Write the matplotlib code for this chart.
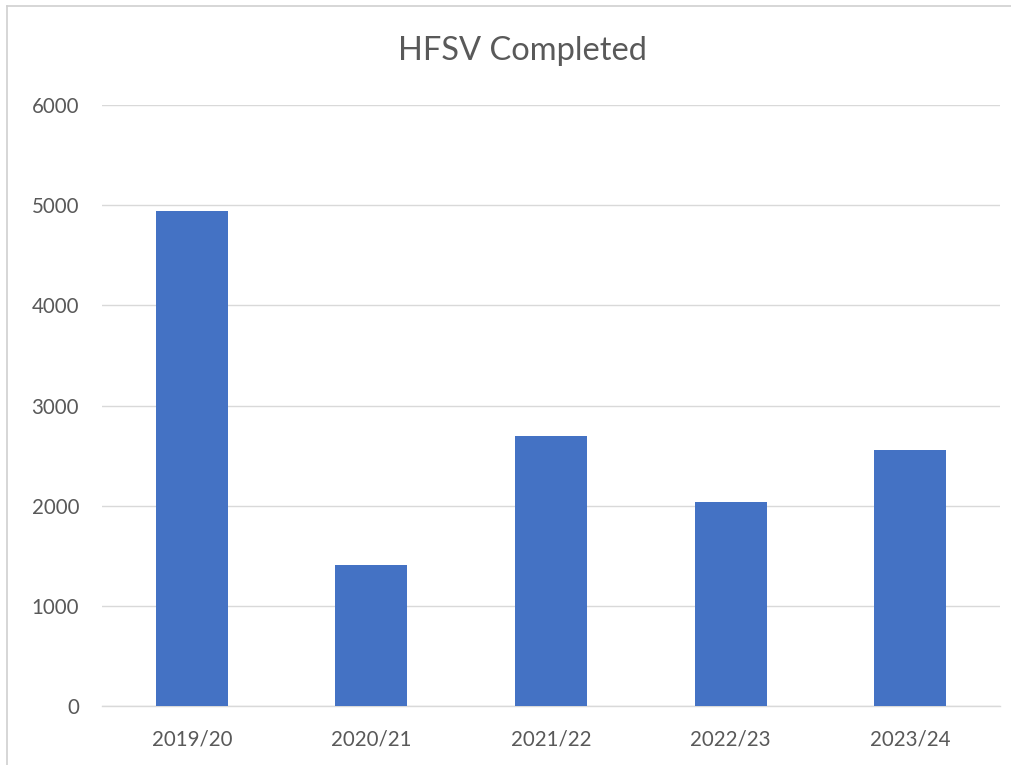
import matplotlib
matplotlib.use("Agg")
import matplotlib.pyplot as plt
from matplotlib.lines import Line2D

categories = ["2019/20", "2020/21", "2021/22", "2022/23", "2023/24"]
values = [4940, 1410, 2695, 2037, 2556]
yticks = [0, 1000, 2000, 3000, 4000, 5000, 6000]

plt.rcParams['font.family'] = ['Lato', 'DejaVu Sans']

W, H = 1012, 765
fig = plt.figure(figsize=(W/100, H/100), dpi=100)
ax = fig.add_axes([102/W, 1-706/H, (1000-102)/W, (706-105)/H])

x = range(len(categories))
ax.bar(x, values, width=0.4, color="#4472C4", zorder=3)
ax.set_xlim(-0.5, len(categories)-0.5)
ax.set_ylim(0, 6000)
ax.set_yticks(yticks)
ax.set_xticks(list(x))
ax.set_xticklabels(categories)
ax.grid(axis='y', color="#D9D9D9", linewidth=1.0, zorder=0)
for s in ['top', 'right', 'left']:
    ax.spines[s].set_visible(False)
ax.spines['bottom'].set_color("#D9D9D9")
ax.spines['bottom'].set_linewidth(1.0)
ax.tick_params(axis='both', length=0, labelsize=14.8, colors="#595959")
ax.tick_params(axis='y', pad=16.5)
ax.tick_params(axis='x', pad=17)

fig.text(522/W, 1-51/H, "HFSV Completed", ha='center', va='center', fontsize=23.5, color="#595959")

# chart border
fig.add_artist(Line2D([7/W, 1.0], [1-6/H, 1-6/H], color="#D0D0D0", linewidth=1.2))
fig.add_artist(Line2D([7/W, 7/W], [0, 1-6/H], color="#D0D0D0", linewidth=1.2))

fig.savefig("out.png", dpi=100)
